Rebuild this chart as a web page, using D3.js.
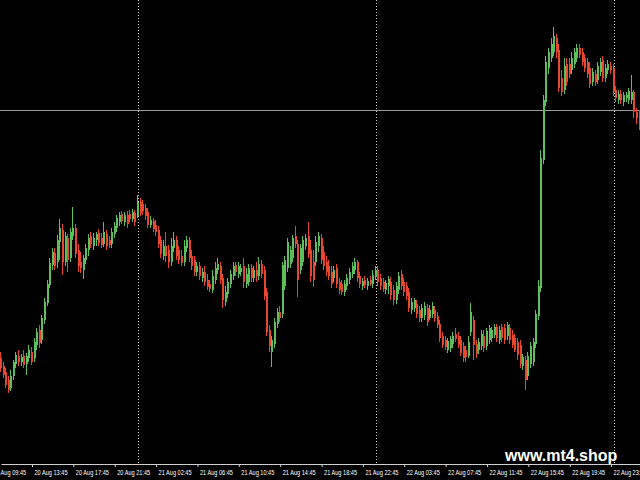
<!DOCTYPE html>
<html><head><meta charset="utf-8">
<script src="https://cdn.jsdelivr.net/npm/d3@7"></script>
<style>html,body{margin:0;padding:0;background:#000;overflow:hidden}</style>
</head><body>
<svg id="c" width="640" height="480"></svg>
<script>
// 15-minute bars, values in price points (higher = higher price)
const opens = [
142,134,128,120,112,124,136,144,138,144,
136,142,148,142,155,170,160,180,197,215,
235,247,238,258,270,238,262,242,264,272,
250,238,230,240,250,264,254,260,267,262,
256,266,260,256,266,272,278,286,278,285,
286,281,287,284,298,296,292,288,275,279,
275,270,260,244,254,250,238,252,260,250,
244,238,252,260,244,240,228,234,222,228,
220,216,210,220,230,234,222,198,206,216,
224,235,226,228,234,216,218,232,222,230,
224,236,230,208,170,148,156,176,188,186,
214,232,236,242,264,256,230,238,254,264,
250,238,238,254,262,248,238,234,228,222,
232,218,216,208,214,220,226,230,238,224,
214,220,214,220,216,223,230,222,218,210,
214,218,210,200,210,226,218,214,208,190,
192,196,190,182,185,192,182,186,190,184,
176,164,160,150,152,156,166,164,160,154,
150,144,168,180,156,150,154,164,154,160,
162,165,173,160,173,172,164,172,165,162,
158,155,134,140,124,136,138,156,184,212,
340,398,432,442,448,462,450,422,410,436,
436,430,436,442,452,448,442,438,432,418,
426,420,428,440,422,430,434,432,410,400,
406,398,402,400,400,408,388,384];
const highs = [
148,138,132,124,130,140,148,150,146,150,
147,155,153,162,172,175,185,202,220,242,
252,252,265,281,276,268,266,272,293,276,
256,248,245,256,266,268,267,268,271,267,
278,270,264,272,278,285,288,289,288,289,
290,291,290,305,302,300,296,292,284,282,
280,274,264,260,268,255,262,268,264,254,
250,260,264,263,250,244,238,238,232,234,
226,220,230,238,242,238,226,214,222,230,
238,238,238,236,242,232,236,236,234,238,
243,240,234,212,175,164,182,192,194,238,
244,262,254,265,274,260,256,264,266,278,
260,250,264,268,266,254,244,240,234,234,
236,222,220,220,226,232,238,242,240,228,
222,224,222,224,230,234,234,226,222,220,
224,223,215,218,228,230,222,218,212,202,
202,200,194,196,198,196,195,198,194,188,
180,168,164,162,164,168,172,168,164,158,
154,164,197,184,160,162,170,170,172,175,
173,176,176,174,176,176,178,176,170,166,
162,160,146,144,148,158,162,190,220,350,
405,444,452,462,473,466,456,430,442,442,
442,448,452,456,456,452,446,442,438,432,
430,438,442,444,436,440,438,436,414,410,
410,408,408,412,425,410,392,390];
const lows = [
128,122,112,107,109,120,132,134,134,132,
125,138,135,138,150,152,156,176,194,212,
230,230,232,240,225,234,228,238,260,242,
228,227,221,236,244,252,250,254,254,252,
253,250,252,252,262,268,274,276,274,272,
278,278,274,282,284,285,280,272,272,268,
264,252,242,240,238,232,234,248,240,236,
234,234,248,238,230,224,224,220,218,214,
210,208,207,216,226,216,192,194,202,212,
220,224,222,224,212,212,214,218,218,218,
220,222,200,164,148,133,152,172,178,182,
210,228,232,238,252,203,226,234,250,242,
218,213,234,248,236,230,224,220,212,218,
212,206,205,204,210,216,222,226,218,212,
210,212,210,214,212,220,214,210,208,206,
206,200,195,196,206,210,204,200,188,186,
188,182,178,178,180,174,180,182,178,172,
158,152,150,147,148,152,158,152,144,138,
138,142,164,140,142,146,150,148,150,156,
158,162,158,156,158,156,160,156,152,148,
140,132,130,110,120,132,134,152,180,208,
336,394,426,438,444,442,408,404,406,414,
422,426,432,438,442,434,428,422,412,414,
414,416,424,418,418,426,426,404,398,396,
396,394,398,396,396,382,376,370];
const closes = [
132,125,115,110,124,138,145,138,143,135,
144,150,138,158,168,157,182,198,216,237,
248,234,260,272,238,264,240,268,272,246,
234,232,242,252,262,256,262,266,257,255,
268,254,255,268,274,282,285,279,285,276,
281,288,278,298,287,289,284,275,280,271,
268,256,246,254,244,238,254,260,244,240,
237,254,260,242,234,228,234,224,228,218,
213,211,224,232,236,220,200,208,218,226,
234,228,234,232,218,226,232,222,230,224,
236,226,204,168,154,160,178,188,182,235,
240,258,250,262,256,220,252,260,262,246,
224,220,258,264,240,234,228,224,216,230,
216,210,208,216,222,228,234,238,222,216,
219,215,219,216,225,230,218,214,211,217,
221,205,200,214,224,214,208,204,192,198,
200,186,182,192,194,178,190,194,182,175,
162,155,153,159,161,164,161,155,147,142,
143,158,188,155,146,158,166,152,169,172,
170,173,162,170,162,160,175,160,155,150,
145,136,143,120,144,154,158,186,214,342,
400,438,448,456,464,448,412,408,434,418,
426,442,448,452,445,438,432,426,416,428,
418,434,438,422,432,436,430,408,402,406,
400,405,405,409,408,388,382,374];

// time-axis labels (bar index -> text)
const labelBars = [-4,12,28,44,60,76,92,108,124,140,156,172,188,204,220,236];
const labelTexts = ["20 Aug 09:45","20 Aug 13:45","20 Aug 17:45","20 Aug 21:45",
  "21 Aug 02:45","21 Aug 06:45","21 Aug 10:45","21 Aug 14:45","21 Aug 18:45",
  "21 Aug 22:45","22 Aug 03:45","22 Aug 07:45","22 Aug 11:45","22 Aug 15:45",
  "22 Aug 19:45","22 Aug 23:45"];
// day separators (first bar of each day)
const gridBars = [53,145,237];
const hLineValue = 390;
const watermark = "www.mt4.shop";

const W = 640, H = 480, axisY = 464;
const bull = "#5cbf5c", bear = "#e8462e";

const svg = d3.select("#c");
svg.append("rect").attr("width", W).attr("height", H).attr("fill", "#000");

const x = d3.scaleLinear().domain([0, 247]).range([0.98, 639.5]);
const y = d3.scaleLinear().domain([0, 500]).range([500, 0]);

// grid
svg.append("g").selectAll("line").data(gridBars).join("line")
  .attr("x1", d => Math.round(x(d)) + 0.5).attr("x2", d => Math.round(x(d)) + 0.5)
  .attr("y1", 0).attr("y2", axisY)
  .attr("stroke", "#d0d0d0").attr("stroke-width", 1).attr("stroke-dasharray", "1,2");

// horizontal price line
svg.append("line")
  .attr("x1", 0).attr("x2", W)
  .attr("y1", Math.round(y(hLineValue)) + 0.5).attr("y2", Math.round(y(hLineValue)) + 0.5)
  .attr("stroke", "#9a9a9a").attr("stroke-width", 1);

const bars = d3.range(opens.length).map(i => ({i, o: opens[i], h: highs[i], l: lows[i], c: closes[i]}));

const cg = svg.append("g");
cg.selectAll("line.wick").data(bars).join("line").attr("class", "wick")
  .attr("x1", d => Math.round(x(d.i)) - 0.5).attr("x2", d => Math.round(x(d.i)) - 0.5)
  .attr("y1", d => Math.round(y(d.h))).attr("y2", d => Math.round(y(d.l)))
  .attr("stroke", d => d.c >= d.o ? bull : bear).attr("stroke-width", 1);
cg.selectAll("rect.body").data(bars).join("rect").attr("class", "body")
  .attr("x", d => Math.round(x(d.i)) - 1)
  .attr("width", 2)
  .attr("y", d => Math.round(y(Math.max(d.o, d.c))))
  .attr("height", d => Math.max(1, Math.round(Math.abs(y(d.o) - y(d.c)))))
  .attr("fill", d => d.c >= d.o ? bull : bear);

// time axis
const axis = d3.axisBottom(x).tickValues(labelBars)
  .tickFormat((d, k) => labelTexts[k]).tickSize(3).tickSizeOuter(0);
const ag = svg.append("g").attr("transform", `translate(0,${axisY})`).call(axis);
ag.attr("font-family", "Liberation Sans, Arial, sans-serif").attr("font-size", 7.5);
ag.select(".domain").attr("stroke", "#d0d0d0");
ag.selectAll(".tick line").attr("stroke", "#d0d0d0");
ag.selectAll(".tick text")
  .attr("fill", "#ffffff").attr("text-anchor", "start")
  .attr("x", 2).attr("y", 11).attr("dy", null)
  .attr("textLength", 33).attr("lengthAdjust", "spacingAndGlyphs");

// watermark
svg.append("text").attr("x", 505).attr("y", 461)
  .attr("font-family", "Liberation Sans, Arial, sans-serif")
  .attr("font-weight", "bold").attr("font-size", 16)
  .attr("fill", "#ffffff").text(watermark);
</script>
</body></html>
